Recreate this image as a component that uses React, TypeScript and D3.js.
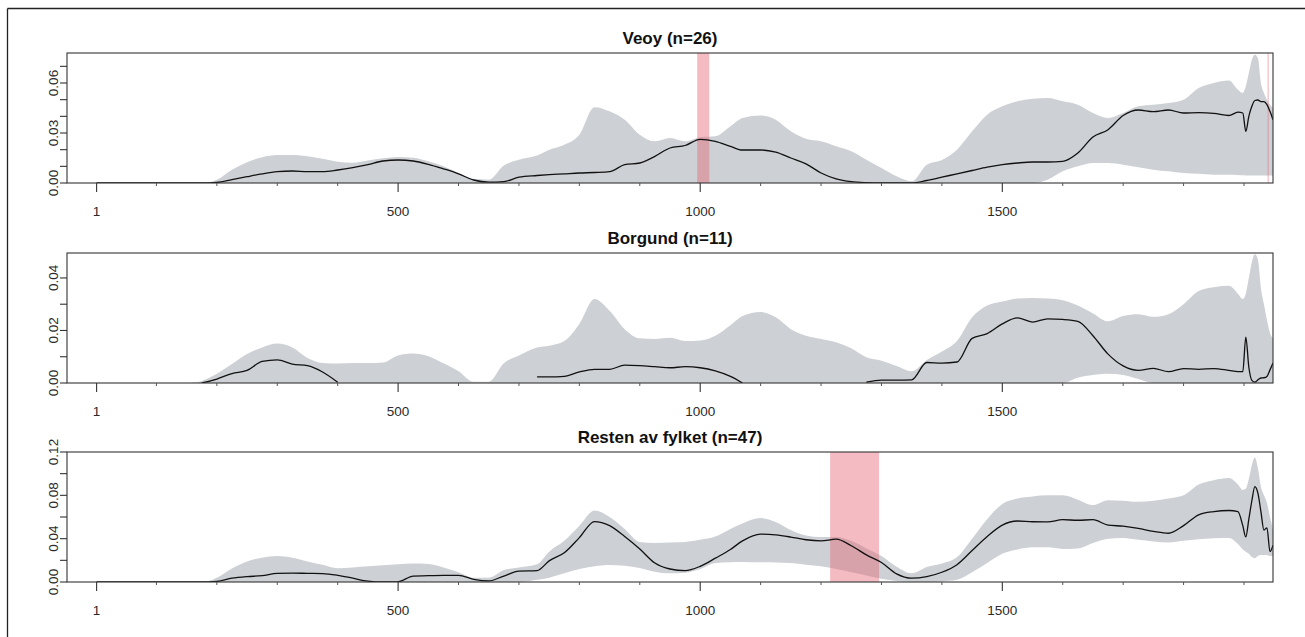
import React from "react";
import * as d3 from "d3";

// ---- data ----
const POSITIONS = [
  1, 100, 150, 175,
  200, 225, 250, 275, 300, 325, 350, 375, 400, 425, 450, 475, 500, 525, 550, 575, 600, 625, 650, 675, 700,
  730,
  750, 775, 800, 825, 850, 875, 900, 925, 950, 975, 1000, 1025, 1050,
  1070,
  1100, 1125, 1150, 1175, 1200, 1225, 1250, 1275, 1300, 1325, 1350, 1375, 1400, 1425, 1450, 1475, 1500, 1525, 1550, 1575,
  1600, 1625, 1650, 1675, 1700, 1725, 1750, 1775, 1800, 1825, 1850, 1875,
  1890, 1898, 1903, 1908, 1913, 1918, 1923, 1928, 1933, 1938, 1943, 1948,
];

const VEOY_MEAN = [
  0, 0, 0, 0,
  0.0003, 0.002, 0.0038, 0.0055, 0.0068, 0.0072, 0.0068, 0.0068, 0.0078, 0.0092, 0.011, 0.0132, 0.0138, 0.0132, 0.0112, 0.0085, 0.0055, 0.0018, 0.0005, 0.0008, 0.0035,
  0.0045,
  0.005, 0.0055, 0.006, 0.0063, 0.0068, 0.011, 0.012, 0.016, 0.021, 0.0225, 0.0262, 0.025, 0.022,
  0.0198,
  0.0198, 0.0185, 0.015, 0.0115, 0.006, 0.0025, 0.0008, 0.0002, 0, 0, 0, 0.0015, 0.0035, 0.0055, 0.0075, 0.0095, 0.011, 0.012, 0.0126, 0.0126,
  0.013, 0.018, 0.0276, 0.032, 0.0405, 0.0438, 0.0428, 0.0438, 0.042, 0.0422, 0.0418, 0.0405,
  0.0425, 0.042, 0.031, 0.04, 0.046, 0.0495, 0.0498, 0.0488, 0.0488, 0.047, 0.043, 0.038,
];
const VEOY_HIGH = [
  0, 0, 0, 0,
  0.002, 0.008, 0.0125, 0.0155, 0.0168, 0.0168, 0.016, 0.0145, 0.0128, 0.0122, 0.0135, 0.0148, 0.0156, 0.0152, 0.013, 0.01, 0.006, 0.0025, 0.002, 0.0105, 0.014,
  0.0165,
  0.02, 0.023, 0.029, 0.0455, 0.043, 0.038, 0.029, 0.025, 0.027, 0.025, 0.0275, 0.028, 0.034,
  0.039,
  0.0405, 0.038, 0.031, 0.0265, 0.025, 0.022, 0.019, 0.014, 0.009, 0.004, 0.001, 0.011, 0.0138, 0.02, 0.031, 0.041, 0.046, 0.049, 0.0505, 0.051,
  0.049, 0.047, 0.042, 0.039, 0.042, 0.046, 0.047, 0.048, 0.05, 0.057, 0.06, 0.0615,
  0.056, 0.054, 0.058, 0.066, 0.074, 0.077, 0.075, 0.06, 0.054, 0.05, 0.047, 0.045,
];
const VEOY_LOW = [
  0, 0, 0, 0,
  0, 0, 0, 0, 0, 0, 0, 0, 0, 0, 0, 0, 0, 0, 0, 0, 0, 0, 0, 0, 0,
  0,
  0, 0, 0, 0, 0, 0, 0, 0, 0, 0, 0, 0, 0,
  0,
  0, 0, 0, 0, 0, 0, 0, 0, 0, 0, 0, 0, 0, 0, 0, 0, 0, 0, 0, 0.002,
  0.007, 0.01, 0.012, 0.012, 0.011, 0.0095, 0.008, 0.007, 0.006, 0.0055, 0.005, 0.005,
  0.0048, 0.0046, 0.0045, 0.0045, 0.0045, 0.0045, 0.0045, 0.0045, 0.0045, 0.0045, 0.0045, 0.0045,
];

const BORGUND_MEAN = [
  null, null, null, 0,
  0.0015, 0.0036, 0.0048, 0.0082, 0.0088, 0.0072, 0.0066, 0.0042, 0.0003, null, null, null, null, null, null, null, null, null, null, null, null,
  0.0023,
  0.0023, 0.0025, 0.0042, 0.0052, 0.0052, 0.0068, 0.0066, 0.0062, 0.0058, 0.0062, 0.0058, 0.0046, 0.0025,
  0,
  null, null, null, null, null, null, null, 0.0003, 0.0011, 0.0011, 0.0012, 0.0078, 0.0076, 0.008, 0.017, 0.0188, 0.0225, 0.0248, 0.0232, 0.0244,
  0.0242, 0.0235, 0.018, 0.011, 0.0065, 0.0048, 0.0056, 0.0043, 0.0055, 0.0052, 0.0055, 0.0048,
  0.0043, 0.0043, 0.0175, 0.006, 0.001, 0.0003, 0.0012, 0.0019, 0.002, 0.0025, 0.005, 0.0076,
];
const BORGUND_HIGH = [
  0, 0, 0, 0.0008,
  0.0035, 0.0072, 0.011, 0.0135, 0.015, 0.0135, 0.0095, 0.0076, 0.0074, 0.0076, 0.0076, 0.0078, 0.0105, 0.0112, 0.0102, 0.0075, 0.0045, 0.0005, 0.0005, 0.0075, 0.0105,
  0.0135,
  0.0142, 0.016, 0.0225, 0.032, 0.0275, 0.0205, 0.017, 0.0168, 0.0172, 0.016, 0.0162, 0.018, 0.022,
  0.0255,
  0.027, 0.025, 0.0205, 0.018, 0.0168, 0.0155, 0.0132, 0.0098, 0.0085, 0.0065, 0.0045, 0.0088, 0.012, 0.016, 0.025, 0.0295, 0.031, 0.0322, 0.0324, 0.0322,
  0.0315, 0.0295, 0.0265, 0.0235, 0.0255, 0.0262, 0.0252, 0.0262, 0.03, 0.035, 0.0365, 0.037,
  0.034, 0.032, 0.034, 0.04, 0.046, 0.049, 0.047, 0.036, 0.03, 0.024, 0.019, 0.017,
];
const BORGUND_LOW = [
  0, 0, 0, 0,
  0, 0, 0, 0, 0, 0, 0, 0, 0, 0, 0, 0, 0, 0, 0, 0, 0, 0, 0, 0, 0,
  0,
  0, 0, 0, 0, 0, 0, 0, 0, 0, 0, 0, 0, 0,
  0,
  0, 0, 0, 0, 0, 0, 0, 0, 0, 0, 0, 0, 0, 0, 0, 0, 0, 0, 0, 0,
  0, 0.002, 0.003, 0.0035, 0.003, 0.0015, 0, 0, 0, 0, 0, 0,
  0, 0, 0, 0, 0, 0, 0, 0, 0, 0, 0, 0,
];

const RESTEN_MEAN = [
  0, 0, 0, 0,
  0.0005, 0.0035, 0.005, 0.0058, 0.008, 0.0082, 0.008, 0.0078, 0.0062, 0.0035, 0.0008, 0, 0.0002, 0.0055, 0.0058, 0.0062, 0.0062, 0.0025, 0.001, 0.0055, 0.01,
  0.0105,
  0.0195, 0.027, 0.041, 0.0558, 0.052, 0.042, 0.0305, 0.0175, 0.012, 0.0105, 0.0145, 0.022, 0.03,
  0.038,
  0.0442, 0.0435, 0.0415, 0.039, 0.038, 0.0395, 0.0335, 0.025, 0.018, 0.0075, 0.0035, 0.005, 0.009, 0.016, 0.029, 0.042, 0.0525, 0.0563, 0.0556, 0.0555,
  0.0575, 0.057, 0.0575, 0.0525, 0.0515, 0.0495, 0.0468, 0.045, 0.052, 0.062, 0.065, 0.066,
  0.065, 0.052, 0.0416, 0.058, 0.075, 0.088, 0.082, 0.065, 0.048, 0.05, 0.028, 0.034,
];
const RESTEN_HIGH = [
  0, 0, 0, 0,
  0.004, 0.0125, 0.019, 0.0225, 0.024, 0.0225, 0.019, 0.016, 0.0128, 0.0135, 0.0145, 0.0155, 0.0165, 0.017, 0.0166, 0.0135, 0.009, 0.004, 0.004, 0.011, 0.0135,
  0.0165,
  0.028, 0.038, 0.052, 0.066, 0.06, 0.049, 0.037, 0.036, 0.0365, 0.037, 0.039, 0.042, 0.049,
  0.054,
  0.059, 0.0555, 0.048, 0.043, 0.0415, 0.0415, 0.038, 0.031, 0.024, 0.014, 0.008, 0.0138, 0.017, 0.023, 0.04, 0.058, 0.072, 0.077, 0.079, 0.08,
  0.08, 0.076, 0.071, 0.0755, 0.075, 0.074, 0.075, 0.077, 0.08, 0.09, 0.094, 0.096,
  0.09, 0.085, 0.086, 0.095, 0.108, 0.115, 0.105, 0.088, 0.08, 0.073, 0.06, 0.048,
];
const RESTEN_LOW = [
  0, 0, 0, 0,
  0, 0, 0, 0, 0, 0, 0, 0, 0, 0, 0, 0, 0, 0, 0, 0, 0, 0, 0, 0, 0,
  0.002,
  0.004, 0.008, 0.012, 0.0145, 0.0157, 0.015, 0.013, 0.0095, 0.008, 0.0085, 0.012, 0.0175, 0.0182,
  0.0185,
  0.0182, 0.018, 0.0175, 0.016, 0.0145, 0.012, 0.009, 0.006, 0.003, 0.001, 0, 0, 0.0005, 0.002, 0.009, 0.0175, 0.026, 0.03, 0.032, 0.032,
  0.0305, 0.031, 0.036, 0.04, 0.0406, 0.039, 0.0375, 0.0365, 0.038, 0.0395, 0.0405, 0.0406,
  0.035, 0.03, 0.028, 0.026, 0.023, 0.022, 0.024, 0.025, 0.025, 0.025, 0.024, 0.024,
];

const PANEL_TITLES = ["Veoy (n=26)", "Borgund (n=11)", "Resten av fylket (n=47)"];
const X_MAJOR_TICKS = [1, 500, 1000, 1500];
const X_MINOR_TICKS = [100, 200, 300, 400, 600, 700, 800, 900, 1100, 1200, 1300, 1400, 1600, 1700, 1800, 1900];

const VEOY_Y_TICKS = [0, 0.01, 0.02, 0.03, 0.04, 0.05, 0.06, 0.07];
const VEOY_Y_LABELS = [0, 0.03, 0.06];
const BORGUND_Y_TICKS = [0, 0.01, 0.02, 0.03, 0.04];
const BORGUND_Y_LABELS = [0, 0.02, 0.04];
const RESTEN_Y_TICKS = [0, 0.02, 0.04, 0.06, 0.08, 0.1, 0.12];
const RESTEN_Y_LABELS = [0, 0.04, 0.08, 0.12];

const VEOY_BANDS = [[995, 1015], [1939, 1941]];
const BORGUND_BANDS: number[][] = [];
const RESTEN_BANDS = [[1215, 1296]];

// ---- layout ----
const W = 1305;
const H = 637;
const LEFT = 67;
const RIGHT = 1273;
const PANEL_H = 130;
const PANEL_TOPS = [53, 253, 452];
const X_DOMAIN = [-48, 1948];
const FONT = "'Liberation Sans', Arial, Helvetica, sans-serif";
const INK = "#2a2a2a";

const panels = [
  { title: PANEL_TITLES[0], mean: VEOY_MEAN, low: VEOY_LOW, high: VEOY_HIGH, yMax: 0.078, ticks: VEOY_Y_TICKS, labels: VEOY_Y_LABELS, bands: VEOY_BANDS },
  { title: PANEL_TITLES[1], mean: BORGUND_MEAN, low: BORGUND_LOW, high: BORGUND_HIGH, yMax: 0.0495, ticks: BORGUND_Y_TICKS, labels: BORGUND_Y_LABELS, bands: BORGUND_BANDS },
  { title: PANEL_TITLES[2], mean: RESTEN_MEAN, low: RESTEN_LOW, high: RESTEN_HIGH, yMax: 0.12, ticks: RESTEN_Y_TICKS, labels: RESTEN_Y_LABELS, bands: RESTEN_BANDS },
];

function Panel({ p, top, idx }: { p: any; top: number; idx: number }) {
  const bottom = top + PANEL_H;
  const x = d3.scaleLinear().domain(X_DOMAIN).range([LEFT, RIGHT]);
  const y = d3.scaleLinear().domain([0, p.yMax]).range([bottom, top]);
  const idxs = POSITIONS.map((_, i) => i);

  const area = d3
    .area<number>()
    .x((i) => x(POSITIONS[i]))
    .y0((i) => y(p.low[i]))
    .y1((i) => y(p.high[i]))
    .curve(d3.curveMonotoneX);

  const line = d3
    .line<number>()
    .defined((i) => p.mean[i] != null)
    .x((i) => x(POSITIONS[i]))
    .y((i) => y(p.mean[i]))
    .curve(d3.curveMonotoneX);

  const clipId = `clip-${idx}`;
  const fmt = d3.format(".2f");

  return (
    <g>
      <defs>
        <clipPath id={clipId}>
          <rect x={LEFT} y={top} width={RIGHT - LEFT} height={PANEL_H} />
        </clipPath>
      </defs>
      <g clipPath={`url(#${clipId})`}>
        <path d={area(idxs) || ""} fill="#cdd0d4" stroke="none" />
        {p.bands.map((b: number[], k: number) => (
          <rect
            key={k}
            x={x(b[0])}
            y={top}
            width={Math.max(1, x(b[1]) - x(b[0]))}
            height={PANEL_H}
            fill="#e66a78"
            opacity={0.45}
          />
        ))}
        <path d={line(idxs) || ""} fill="none" stroke="#111" strokeWidth={1.3} strokeLinejoin="round" />
      </g>
      <rect x={LEFT} y={top} width={RIGHT - LEFT} height={PANEL_H} fill="none" stroke="#333" strokeWidth={1.1} />
      {/* x ticks */}
      {X_MAJOR_TICKS.map((t) => (
        <g key={`M${t}`}>
          <line x1={x(t)} x2={x(t)} y1={bottom} y2={bottom + 9} stroke="#333" strokeWidth={1.1} />
          <text x={x(t)} y={bottom + 33} textAnchor="middle" fontFamily={FONT} fontSize={13.5} fill={INK}>
            {t}
          </text>
        </g>
      ))}
      {X_MINOR_TICKS.map((t) => (
        <line key={`m${t}`} x1={x(t)} x2={x(t)} y1={bottom} y2={bottom + 3} stroke="#555" strokeWidth={1} />
      ))}
      {/* y ticks */}
      {p.ticks.map((t: number) => (
        <line key={`y${t}`} x1={LEFT - 7} x2={LEFT} y1={y(t)} y2={y(t)} stroke="#333" strokeWidth={1.1} />
      ))}
      {p.labels.map((t: number) => (
        <text
          key={`yl${t}`}
          transform={`translate(${LEFT - 9},${y(t)}) rotate(-90)`}
          textAnchor="middle"
          fontFamily={FONT}
          fontSize={13.5}
          fill={INK}
        >
          {fmt(t)}
        </text>
      ))}
      <text
        x={(LEFT + RIGHT) / 2}
        y={top - 9}
        textAnchor="middle"
        fontFamily={FONT}
        fontSize={17}
        fontWeight="bold"
        fill="#111"
      >
        {p.title}
      </text>
    </g>
  );
}

export default function App() {
  return (
    <svg
      width={W}
      height={H}
      viewBox={`0 0 ${W} ${H}`}
      style={{ position: "absolute", left: 0, top: 0, display: "block", background: "#fff" }}
    >
      <rect x={0} y={0} width={W} height={H} fill="#fff" />
      <line x1={7.5} x2={W} y1={8.5} y2={8.5} stroke="#222" strokeWidth={1.3} />
      <line x1={7.5} x2={7.5} y1={8.5} y2={H} stroke="#222" strokeWidth={1.3} />
      {panels.map((p, i) => (
        <Panel key={i} p={p} top={PANEL_TOPS[i]} idx={i} />
      ))}
    </svg>
  );
}
